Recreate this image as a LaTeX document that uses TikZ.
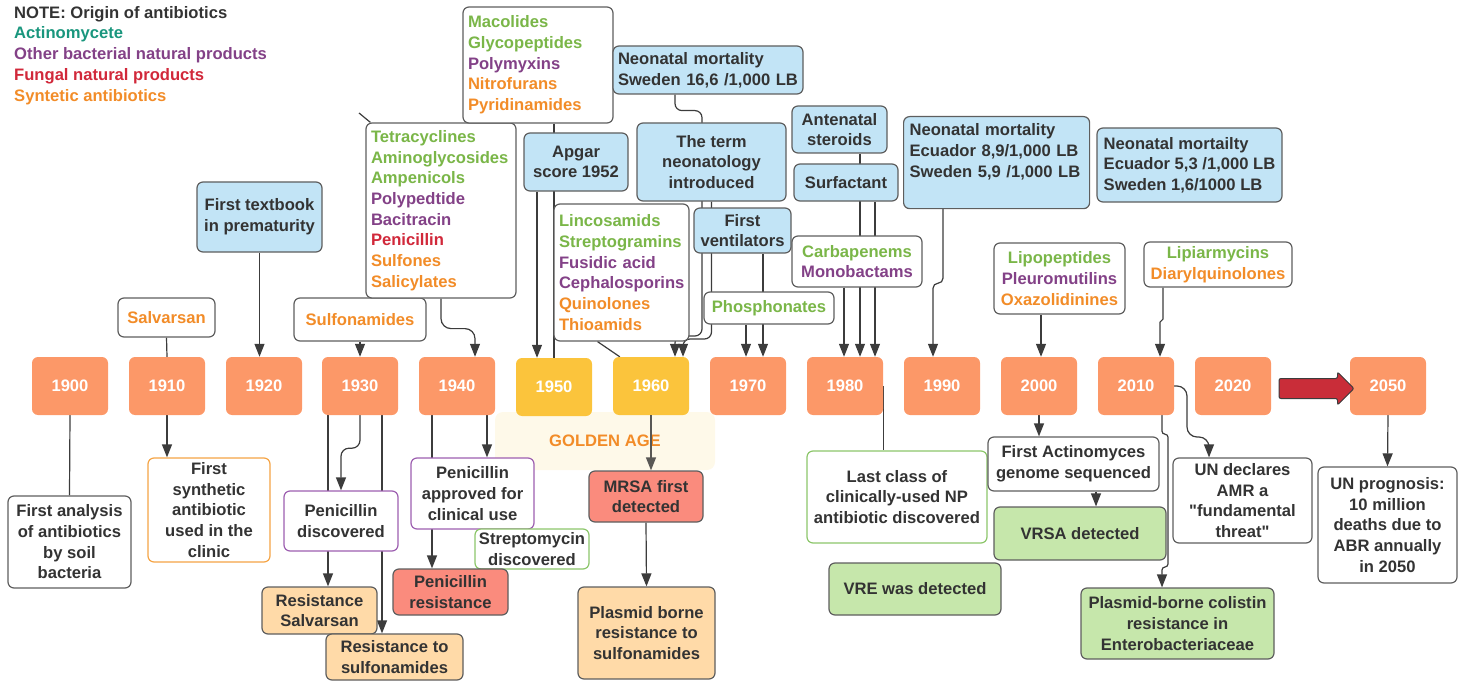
\documentclass[tikz,border=0pt]{standalone}
\usepackage{fontspec}
\setmainfont{Liberation Sans}
\usetikzlibrary{arrows.meta,backgrounds,shapes.arrows}

\definecolor{yearorange}{HTML}{FC9868}
\definecolor{goldyellow}{HTML}{FBC43C}
\definecolor{skyblue}{HTML}{C2E4F6}
\definecolor{paleorange}{HTML}{FFDAA8}
\definecolor{salmonred}{HTML}{FA8B7D}
\definecolor{palegreen}{HTML}{C6E7AB}
\definecolor{cream}{HTML}{FEF7E4}
\definecolor{arrowred}{HTML}{C92D39}
\definecolor{txtgray}{HTML}{333333}
\definecolor{linegray}{HTML}{3C3C3C}
\definecolor{boxgray}{HTML}{5E5E5E}
\definecolor{drggreen}{HTML}{7AB648}
\definecolor{drgpurple}{HTML}{834187}
\definecolor{drgred}{HTML}{D1283A}
\definecolor{drgorange}{HTML}{F28C28}
\definecolor{actteal}{HTML}{19967D}
\definecolor{brdpurple}{HTML}{9D5FB0}
\definecolor{brdorange}{HTML}{F5A445}
\definecolor{brdgreen}{HTML}{8CC66A}

\newcommand{\gr}[1]{\textcolor{drggreen}{#1}}
\newcommand{\pu}[1]{\textcolor{drgpurple}{#1}}
\newcommand{\rd}[1]{\textcolor{drgred}{#1}}
\newcommand{\og}[1]{\textcolor{drgorange}{#1}}
\newcommand{\dq}{\XeTeXglyph\XeTeXcharglyph"22 \relax}

\tikzset{
  >={Triangle[length=13pt,width=10pt]},
  year/.style={fill=yearorange, rounded corners=6pt, minimum width=76pt, minimum height=58pt, inner sep=0pt, text=white},
  goldyear/.style={year, fill=goldyellow},
  event/.style={draw=boxgray, fill=white, rounded corners=6pt, line width=1.2pt, text=txtgray, align=center, inner sep=0pt},
  blueevent/.style={event, fill=skyblue},
  drugs/.style={event, align=left, inner xsep=5pt},
  link/.style={draw=linegray, line width=1.2pt},
  arrowlink/.style={link, ->},
}

\begin{document}
\begin{tikzpicture}[x=1pt, y=-1pt, font=\fontsize{16.6pt}{20.7pt}\selectfont\bfseries]
  \useasboundingbox (0,0) rectangle (1465,682);

  % legend
  \node[anchor=north west, align=left, inner sep=0pt, text=txtgray] (legend) at (14,6)
    {NOTE: Origin of antibiotics\\\textcolor{actteal}{Actinomycete}\\\pu{Other bacterial natural products}\\\rd{Fungal natural products}\\\og{Syntetic antibiotics}};

  % golden age band
  \node[fill=cream, fill opacity=0.8, text opacity=1, rounded corners=8pt, minimum width=220pt, minimum height=58pt, text=drgorange] (golden) at (605,441) {GOLDEN AGE};

  % timeline
  \foreach \yr/\xx in {1900/70,1910/167,1920/264,1930/360,1940/457,1970/748,1980/845,1990/942,2000/1039,2010/1136,2020/1233,2050/1388}
    \node[year] (y\yr) at (\xx,386) {\yr};
  \node[goldyear] (y1950) at (554,387) {1950};
  \node[goldyear] (y1960) at (651,386) {1960};
  \node[single arrow, fill=arrowred, draw=linegray, line width=1pt, minimum height=75pt, inner xsep=0pt, inner ysep=9.5pt,
        single arrow head extend=6.5pt, rounded corners=2pt] (bigarrow) at (1311.5,388.5) {};

  % above the timeline
  \node[event, minimum width=97pt, minimum height=39pt] (salvarsan) at (166.5,317.5) {\og{Salvarsan}};
  \node[blueevent, minimum width=125pt, minimum height=70pt] (textbook) at (259.5,217) {First textbook\\in prematurity};
  \node[event, minimum width=132pt, minimum height=43pt] (sulfa) at (360,319.5) {\og{Sulfonamides}};
  \node[drugs, text width=140pt, minimum height=175pt] (tetra) at (441,210.5)
    {\gr{Tetracyclines}\\\gr{Aminoglycosides}\\\gr{Ampenicols}\\\pu{Polypedtide}\\\pu{Bacitracin}\\\rd{Penicillin}\\\og{Sulfones}\\\og{Salicylates}};
  \node[drugs, text width=140pt, minimum height=116pt] (macolides) at (538,65)
    {\gr{Macolides}\\\gr{Glycopeptides}\\\pu{Polymyxins}\\\og{Nitrofurans}\\\og{Pyridinamides}};
  \node[blueevent, minimum width=104pt, minimum height=58pt] (apgar) at (576,162) {Apgar\\score 1952};
  \node[blueevent, align=left, inner xsep=5pt, text width=180pt, minimum height=48pt] (neo1) at (708,70)
    {Neonatal mortality\\Sweden 16,6 /1,000 LB};
  \node[blueevent, minimum width=149pt, minimum height=78pt] (term) at (711.5,162) {The term\\neonatology\\introduced};
  \node[drugs, text width=125pt, minimum height=137pt] (linco) at (621.5,272.5)
    {\gr{Lincosamids}\\\gr{Streptogramins}\\\pu{Fusidic acid}\\\pu{Cephalosporins}\\\og{Quinolones}\\\og{Thioamids}};
  \node[blueevent, minimum width=97pt, minimum height=45pt] (vent) at (742.5,230.5) {First\\ventilators};
  \node[event, minimum width=130pt, minimum height=32pt] (phos) at (769,308) {\gr{Phosphonates}};
  \node[blueevent, minimum width=95pt, minimum height=47pt] (antenatal) at (839.5,129.5) {Antenatal\\steroids};
  \node[blueevent, minimum width=104pt, minimum height=37pt] (surfactant) at (846,182.5) {Surfactant};
  \node[event, minimum width=130pt, minimum height=51pt] (carba) at (857,261.5) {\gr{Carbapenems}\\\pu{Monobactams}};
  \node[blueevent, anchor=north west, align=left, inner xsep=6pt, inner ysep=7pt, text width=174pt, text depth=66pt] (neo2) at (903,116)
    {Neonatal mortality\\Ecuador 8,9/1,000 LB\\Sweden 5,9 /1,000 LB};
  \node[blueevent, align=left, minimum width=185pt, minimum height=74pt] (neo3) at (1189.5,165)
    {Neonatal mortailty\\Ecuador 5,3 /1,000 LB\\Sweden 1,6/1000 LB};
  \node[event, minimum width=131pt, minimum height=71pt] (lipo) at (1059.5,278.5) {\gr{Lipopeptides}\\\pu{Pleuromutilins}\\\og{Oxazolidinines}};
  \node[event, minimum width=148pt, minimum height=45pt] (lipiar) at (1218,264.5) {\gr{Lipiarmycins}\\\og{Diarylquinolones}};

  % below the timeline
  \node[event, minimum width=123pt, minimum height=92pt] (analysis) at (69.5,542) {First analysis\\of antibiotics\\by soil\\bacteria};
  \node[event, draw=brdorange, minimum width=122pt, minimum height=104pt] (synthetic) at (209,510) {First\\synthetic\\antibiotic\\used in the\\clinic};
  \node[event, draw=brdpurple, minimum width=114pt, minimum height=60pt] (pendisc) at (341,521) {Penicillin\\discovered};
  \node[event, fill=paleorange, minimum width=115pt, minimum height=47pt] (ressalv) at (319.5,610.5) {Resistance\\Salvarsan};
  \node[event, fill=paleorange, minimum width=137pt, minimum height=46pt] (ressulf) at (394.5,657) {Resistance to\\sulfonamides};
  \node[event, draw=brdpurple, minimum width=123pt, minimum height=71pt] (penapp) at (472.5,493.5) {Penicillin\\approved for\\clinical use};
  \node[event, draw=brdgreen, minimum width=114pt, minimum height=40pt] (strepto) at (532,549) {Streptomycin\\discovered};
  \node[event, fill=salmonred, minimum width=115pt, minimum height=46pt] (penres) at (450.5,592) {Penicillin\\resistance};
  \node[event, fill=salmonred, minimum width=114pt, minimum height=51pt] (mrsa) at (646,496.5) {MRSA first\\detected};
  \node[event, fill=paleorange, minimum width=137pt, minimum height=92pt] (plasmid) at (646.5,633) {Plasmid borne\\resistance to\\sulfonamides};
  \node[event, draw=brdgreen, minimum width=180pt, minimum height=92pt] (lastclass) at (897,497) {Last class of\\clinically-used NP\\antibiotic discovered};
  \node[event, fill=palegreen, minimum width=172pt, minimum height=52pt] (vre) at (915,589) {VRE was detected};
  \node[event, minimum width=171pt, minimum height=54pt] (actino) at (1073.5,464) {First Actinomyces\\genome sequenced};
  \node[event, fill=palegreen, minimum width=172pt, minimum height=53pt] (vrsa) at (1080,533.5) {VRSA detected};
  \node[event, fill=palegreen, minimum width=193pt, minimum height=71pt] (colistin) at (1177.5,623.5) {Plasmid-borne colistin\\resistance in\\Enterobacteriaceae};
  \node[event, minimum width=139pt, minimum height=85pt] (undecl) at (1242.5,500.5) {UN declares\\AMR a\\\dq fundamental\\threat\dq};
  \node[event, minimum width=139pt, minimum height=116pt] (unprog) at (1387.5,525) {UN prognosis:\\10 million\\deaths due to\\ABR annually\\in 2050};

  \draw[arrowlink, draw=linegray!85!cream] (y1960.south) -- (y1960.south |- mrsa.north); % through the golden band

  \begin{pgfonlayer}{background}
  \draw[link] (salvarsan.south) -- (y1910.north);
  \draw[arrowlink] (textbook.south) -- (textbook.south |- y1920.north);
  \draw[arrowlink] (sulfa.south) -- (y1930.north);
  \draw[arrowlink, rounded corners=10pt] (tetra.south) -- ++(0,30) -| ([xshift=18pt]y1940.north);
  \coordinate (stubend) at (359,113);
  \draw[link] (stubend) -- ([xshift=5pt]tetra.north west);   %loose end
  \draw[link] (macolides.south -| y1950) -- (y1950.north);   %behind apgar
  \draw[arrowlink] ([xshift=-17pt]y1950.north |- apgar.south) -- ([xshift=-17pt]y1950.north);
  \draw[arrowlink, rounded corners=7pt] ([xshift=24pt]y1960.north |- neo1.south) -- ++(0,16) -| (702,336) -| ([xshift=24pt]y1960.north);
  \draw[arrowlink, rounded corners=7pt] (term.south) -- (term.south |- 0,339) -| ([xshift=32pt]y1960.north);
  \draw[link] ([xshift=-24pt]linco.south) -- ([xshift=7pt]y1960.north west);
  \draw[arrowlink] ([xshift=15pt]y1970.north |- vent.south) -- ([xshift=15pt]y1970.north);
  \draw[arrowlink] ([xshift=-2pt]y1970.north |- phos.south) -- ([xshift=-2pt]y1970.north);
  \draw[arrowlink] ([xshift=15pt]y1980.north |- antenatal.south) -- ([xshift=15pt]y1980.north);
  \draw[arrowlink] ([xshift=30pt]y1980.north |- surfactant.south) -- ([xshift=30pt]y1980.north);
  \draw[arrowlink] ([xshift=-1pt]y1980.north |- carba.south) -- ([xshift=-1pt]y1980.north);
  \draw[arrowlink, rounded corners=5pt] ([xshift=1pt]y1990.north |- neo2.south) -- ++(0,74) -| ([xshift=-9pt]y1990.north);
  \draw[arrowlink] ([xshift=2pt]y2000.north |- lipo.south) -- ([xshift=2pt]y2000.north);
  \draw[arrowlink, rounded corners=1.5pt] ([xshift=27pt]y2010.north |- lipiar.south) -- ++(0,33) -| ([xshift=24pt]y2010.north);

  \draw[link] (y1900.south) -- (analysis.north);
  \draw[arrowlink] (y1910.south) -- (y1910.south |- synthetic.north);
  \draw[arrowlink, rounded corners=8pt] (y1930.south) -- ++(0,33) -| (pendisc.north);
  \draw[arrowlink] ([xshift=-32pt]y1930.south) -- ([xshift=-32pt]y1930.south |- ressalv.north);
  \draw[arrowlink] ([xshift=22pt]y1930.south) -- ([xshift=22pt]y1930.south |- ressulf.north);
  \draw[arrowlink] ([xshift=30pt]y1940.south) -- ([xshift=30pt]y1940.south |- penapp.north);
  \draw[arrowlink] ([xshift=-25pt]y1940.south) -- ([xshift=-25pt]y1940.south |- penres.north);
  \draw[arrowlink] (mrsa.south) -- (plasmid.north);
  \draw[link] (y1980.east) -- (y1980.east |- lastclass.north);
  \draw[arrowlink] (y2000.south) -- (y2000.south |- actino.north);
  \draw[arrowlink] ([xshift=22.5pt]actino.south) -- ([xshift=22.5pt]actino.south |- vrsa.north);
  \draw[arrowlink, rounded corners=3pt] ([xshift=26pt]y2010.south) -- ++(0,19) -| (1168,567) -| ([xshift=26pt]y2010.south |- colistin.north);
  \draw[arrowlink, rounded corners=10pt] (y2010.east) -| (1187,437) -| ([xshift=-33.5pt]undecl.north);
  \draw[arrowlink] (y2050.south) -- (unprog.north);
  \end{pgfonlayer}
\end{tikzpicture}
\end{document}
